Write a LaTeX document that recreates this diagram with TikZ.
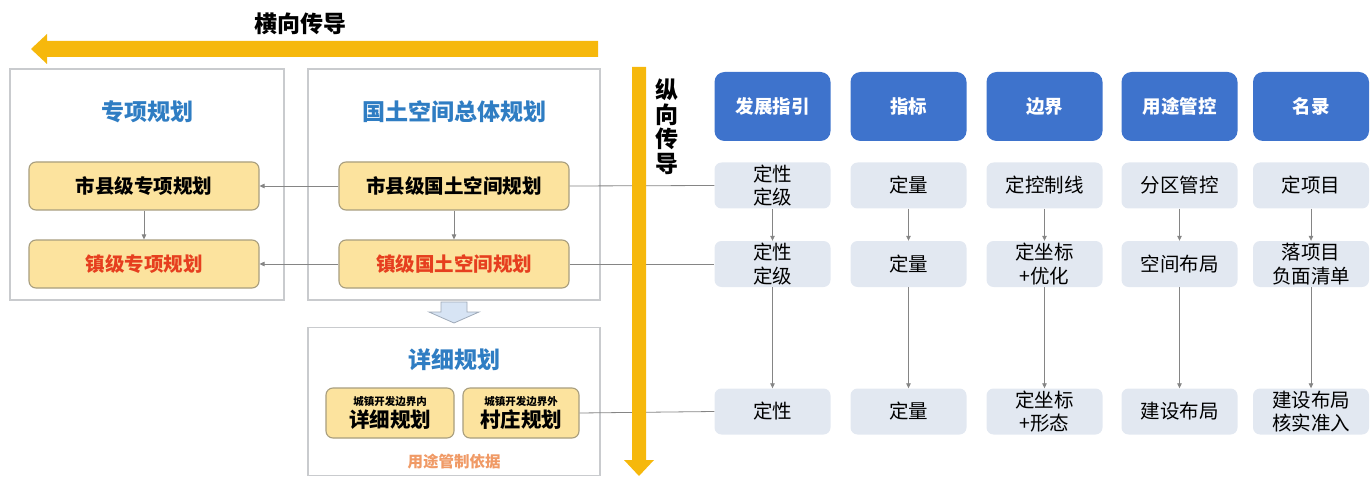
\documentclass[tikz,border=0pt]{standalone}
\usepackage{fontspec}
\setmainfont{Noto Sans CJK SC}
\usetikzlibrary{arrows.meta}
\definecolor{yarrow}{HTML}{F6B80C}
\definecolor{yfill}{HTML}{FCE39E}
\definecolor{ydraw}{HTML}{A89E7E}
\definecolor{tblue}{HTML}{2F7DC3}
\definecolor{tred}{HTML}{E63F1F}
\definecolor{torange}{HTML}{F09A66}
\definecolor{hblue}{HTML}{3E73CC}
\definecolor{gfill}{HTML}{E2E8F1}
\definecolor{frameg}{HTML}{C9CBCE}
\definecolor{lineg}{HTML}{858585}
\definecolor{hollowfill}{HTML}{D7E4F4}
\definecolor{hollowdraw}{HTML}{9FAAB8}
\tikzset{
  frame/.style={draw=frameg, line width=1.2pt, fill=white, inner sep=0pt},
  ttl/.style={text=tblue, font=\bfseries\fontsize{23}{26}\selectfont, inner sep=0pt},
  ybox/.style={draw=ydraw, fill=yfill, line width=1.1pt, rounded corners=7pt,
    minimum width=230pt, minimum height=48pt, inner sep=0pt,
    font=\bfseries\fontsize{19.5}{22}\selectfont},
  dbox/.style={draw=ydraw, fill=yfill, line width=1.1pt, rounded corners=7pt,
    minimum height=50pt, inner sep=0pt, align=center},
  hdr/.style={fill=hblue, rounded corners=10pt, minimum width=116pt, minimum height=69pt,
    inner sep=0pt, text=white, font=\bfseries\fontsize{18.5}{22}\selectfont},
  gbox/.style={fill=gfill, rounded corners=7pt, minimum width=116pt, minimum height=46pt,
    inner sep=0pt, align=center, font=\fontsize{19.5}{23.5}\selectfont},
  conn/.style={draw=lineg, line width=0.8pt},
  arr/.style={conn, -{Triangle[length=5pt,width=4.5pt]}},
}
\begin{document}
\begin{tikzpicture}[x=1pt,y=-1pt]
\useasboundingbox (0,0) rectangle (1370,497);

% frames
\node[frame, minimum width=274pt, minimum height=231pt] (Lframe) at (147,184.5) {};
\node[frame, minimum width=292pt, minimum height=231pt] (Cframe) at (454,184.5) {};
\node[frame, minimum width=292pt, minimum height=148pt] (Dframe) at (454,401.5) {};

% titles
\node[ttl] (Lttl) at (147,112) {专项规划};
\node[ttl] (Cttl) at (454,112) {国土空间总体规划};
\node[ttl] (Dttl) at (454,360) {详细规划};

% yellow boxes
\node[ybox] (A1) at (144,186) {市县级专项规划};
\node[ybox, text=tred] (A2) at (144,264) {镇级专项规划};
\node[ybox] (B1) at (454,186) {市县级国土空间规划};
\node[ybox, text=tred] (B2) at (454,264) {镇级国土空间规划};

\node[dbox, minimum width=128pt] (C1) at (390,413)
  {{\bfseries\fontsize{10.5}{12}\selectfont 城镇开发边界内}\\[2pt]{\bfseries\fontsize{20.5}{22}\selectfont 详细规划}};
\node[dbox, minimum width=116pt] (C2) at (521,413)
  {{\bfseries\fontsize{10.5}{12}\selectfont 城镇开发边界外}\\[2pt]{\bfseries\fontsize{20.5}{22}\selectfont 村庄规划}};
\node[text=torange, font=\bfseries\fontsize{15.5}{18}\selectfont, inner sep=0pt] (Dnote) at (454,462) {用途管制依据};

% hollow down arrow
\filldraw[fill=hollowfill, draw=hollowdraw, line width=0.8pt]
  (441,302) -- (467,302) -- (467,312) -- (479,312) -- (454,323) -- (429,312) -- (441,312) -- cycle;

% right columns
\foreach \c/\x/\h in {1/772.5/发展指引, 2/908.5/指标, 3/1044.5/边界, 4/1179.5/用途管控, 5/1311/名录}{
  \node[hdr] (H\c) at (\x,106.5) {\h};
}
\node[gbox] (R11) at (772.5,185.5) {定性\\定级};
\node[gbox] (R12) at (908.5,185.5) {定量};
\node[gbox] (R13) at (1044.5,185.5) {定控制线};
\node[gbox] (R14) at (1179.5,185.5) {分区管控};
\node[gbox] (R15) at (1311,185.5) {定项目};

\node[gbox] (R21) at (772.5,264) {定性\\定级};
\node[gbox] (R22) at (908.5,264) {定量};
\node[gbox] (R23) at (1044.5,264) {定坐标\\+优化};
\node[gbox] (R24) at (1179.5,264) {空间布局};
\node[gbox] (R25) at (1311,264) {落项目\\负面清单};

\node[gbox] (R31) at (772.5,411.5) {定性};
\node[gbox] (R32) at (908.5,411.5) {定量};
\node[gbox] (R33) at (1044.5,411.5) {定坐标\\+形态};
\node[gbox] (R34) at (1179.5,411.5) {建设布局};
\node[gbox] (R35) at (1311,411.5) {建设布局\\核实准入};

\foreach \c in {1,...,5}{
  \draw[arr] (R1\c.south) -- (R2\c.north);
  \draw[arr] (R2\c.south) -- (R3\c.north);
}

% left connectors
\draw[arr] (B1.west) -- (A1.east);
\draw[arr] (B2.west) -- (A2.east);
\draw[arr] (A1.south) -- (A2.north);
\draw[arr] (B1.south) -- (B2.north);

% long connectors
\draw[conn] (B1.east) -- (R11.west);
\draw[conn] (B2.east) -- (R21.west);
\draw[conn] (C2.east) -- (R31.west);

% horizontal yellow arrow
\fill[yarrow] (598,41) -- (47,41) -- (47,34) -- (31,49) -- (47,64) -- (47,57) -- (598,57) -- cycle;
\node[font=\bfseries\fontsize{23}{26}\selectfont, inner sep=0pt] (htext) at (300,24) {横向传导};

% vertical yellow arrow
\fill[yarrow] (632,67) -- (646,67) -- (646,460) -- (654,460) -- (639,476) -- (624,460) -- (632,460) -- cycle;
\node[font=\bfseries\fontsize{23}{24.5}\selectfont, align=center, inner sep=0pt] (vtext) at (667,127)
  {纵\\向\\传\\导};
\end{tikzpicture}
\end{document}
